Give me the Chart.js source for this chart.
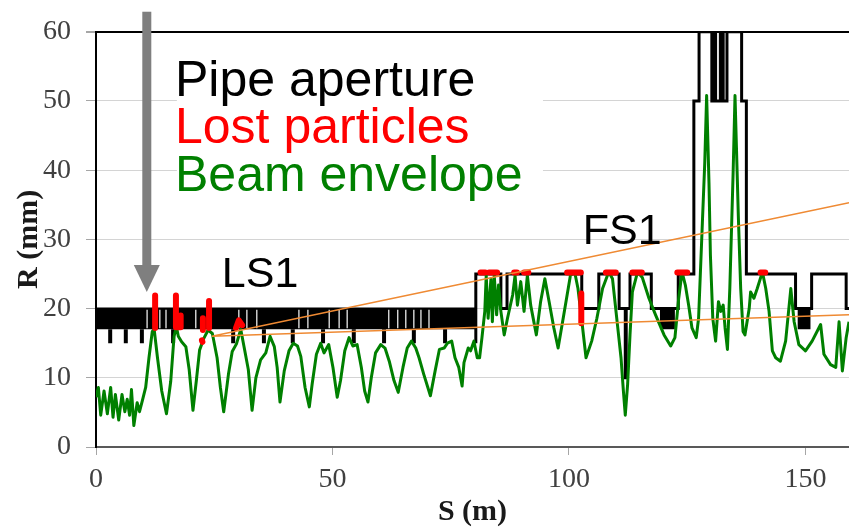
<!DOCTYPE html>
<html><head><meta charset="utf-8">
<script src="https://cdn.jsdelivr.net/npm/chart.js@4.4.1/dist/chart.umd.min.js"></script>
<style>html,body{margin:0;padding:0;background:#fff;}#wrap{width:849px;height:532px;}</style>
</head><body><div id="wrap"><canvas id="c" width="849" height="532"></canvas></div>
<script>
// ---- data ----
const xTickValues = [0, 50, 100, 150];
const xMin = 0, xMax = 159.2;
const yMin = 0, yMax = 60, yStep = 10;

// Beam envelope (green)
const beamS = [0,0.5,1.0,1.7,2.4,3.1,3.6,4.1,4.8,5.5,6.1,6.6,7.1,7.5,8.0,8.7,9.2,9.8,10.5,11.2,11.9,12.3,13.0,13.9,14.9,15.8,16.5,17.0,17.4,18.1,19.0,19.7,20.5,21.2,21.9,22.8,23.7,24.6,25.6,26.3,27.0,28.0,28.8,29.7,30.6,31.3,32.2,33.0,33.8,34.8,35.9,36.8,37.7,38.3,38.9,39.8,40.8,41.7,42.6,43.3,44.2,45.1,45.7,46.6,47.5,48.2,49.2,50.1,51.0,51.7,52.6,53.5,54.3,55.2,56.1,56.8,57.5,58.2,59.1,60.2,61.1,62.0,63.0,63.9,64.9,65.8,66.7,67.6,68.3,69.3,70.7,71.7,72.6,73.6,74.3,75.2,75.9,76.7,77.4,77.8,78.7,79.2,79.9,80.6,81.1,81.6,82.2,82.5,82.9,83.5,83.8,84.2,84.7,85.1,85.6,86.3,87.0,88.1,88.6,89.1,89.8,90.5,91.2,91.9,93.1,94.0,94.9,95.8,96.8,97.7,98.9,100.3,101.2,101.9,102.8,103.6,104.8,105.9,107.1,108.4,109.2,110.1,111.0,111.5,111.9,112.4,112.9,113.4,114.5,115.5,116.9,118.3,120.1,121.5,122.4,123.2,123.9,124.6,125.3,126.0,126.9,127.4,128.2,128.7,129.1,129.6,129.9,130.4,131.0,131.6,132.1,132.6,133.0,133.5,134.0,134.4,134.7,135.1,135.4,135.8,136.3,136.8,137.2,138.1,138.4,139.1,139.8,140.9,141.6,142.3,143.0,143.7,144.7,145.8,146.9,147.6,148.6,150.0,151.4,153.2,153.9,155.3,156.4,157.1,157.8,158.6,159.2];
const beamR = [7.2,8.6,4.6,8.1,4.8,8.6,4.3,7.6,3.9,7.6,5.1,6.9,4.6,8.3,3.1,6.4,5.1,6.7,8.6,12.9,16.7,17.0,12.9,8.1,4.8,9.5,16.0,17.4,16.0,15.2,14.5,11.2,5.3,9.5,14.0,15.7,16.9,16.4,12.9,8.6,5.1,10.5,13.8,14.9,17.0,14.5,11.2,5.3,10.0,12.6,13.6,16.0,14.5,11.5,6.5,11.0,13.9,15.0,14.6,13.1,8.6,5.8,9.1,13.4,15.0,13.6,14.8,11.5,7.2,9.6,13.9,15.8,14.6,14.8,11.5,8.1,6.5,10.0,13.6,14.8,14.3,12.4,9.6,7.9,11.5,14.3,15.3,14.3,12.9,10.5,7.4,11.0,14.1,14.3,15.0,15.3,12.9,11.5,8.8,12.2,14.3,13.9,15.3,12.9,12.9,15.8,19.6,24.8,18.6,24.3,18.1,24.8,19.1,23.4,19.6,16.2,18.6,22.0,24.8,20.5,23.9,19.6,24.8,20.5,16.2,21.0,24.3,21.0,17.2,14.3,19.1,24.8,25.3,22.9,17.7,12.9,15.3,18.6,22.9,25.3,24.3,18.6,12.9,8.1,4.6,9.1,16.2,22.4,25.3,24.5,21.5,19.1,16.2,14.6,15.8,21.5,25.3,23.4,20.5,17.2,15.8,18.6,32.4,41.0,50.8,38.1,27.7,18.6,15.3,21.0,19.6,20.5,17.2,14.1,22.9,32.4,39.6,50.8,43.4,33.4,22.9,16.7,16.2,20.0,22.4,21.5,22.9,25.3,22.9,19.6,13.9,12.9,12.4,15.3,22.9,18.1,14.8,13.9,15.3,17.7,13.4,11.9,11.5,18.1,11.0,15.8,18.1];

// Pipe aperture, FS1 part (value holds until the next change point)
const pipeS = [80.3,80.3,85.6,86.9,102.7,106.3,110.6,111.9,112.1,112.9,117.4,123.1,126.4,127.5,130.2,130.6,131.0,132.0,132.6,133.4,136.5,137.5,147.9,151.3,158.6,159.2];
const pipeR = [15,25,20,25,20,25,20,10,20,25,20,25,50,60,50,60,50,60,50,60,50,25,20,25,20,20];

// Pipe aperture, dense LS1 band and small blocks (R between 17 and 20)
const bandStart = [0, 119.2, 148.3];
const bandEnd = [80.3, 122.4, 151.1];
const bandUpper = 20, bandLower = 17;
// short aperture dips (17 -> 15)
const dipS = [3.0,6.3,9.7,16.3,29.0,35.5,41.6,48.0,54.5,60.9,67.2,73.8];
const dipUpper = 17, dipLower = 15;
// thin openings in the band
const gapS = [10.8,13.5,14.8,21.1,30.2,31.9,34.0,42.9,44.8,49.3,51.4,53.1,61.9,63.8,65.5,67.2,68.7,70.4];

// Lost particles (red), null separates marks
const lostS = [12.5,12.5,null,16.9,16.9,17.9,17.9,null,23.9,23.9,null,22.6,22.6,null,22.4,22.5,null,29.6,30.2,30.9,null,81.3,82.3,null,83.1,84.8,null,88.4,89.0,null,90.5,91.4,null,99.6,102.5,null,102.6,102.6,null,107.8,109.9,null,113.4,115.4,null,122.9,125.0,null,140.5,141.5];
const lostR = [21.9,17.2,null,21.9,17.3,17.3,19.0,null,21.1,17.2,null,18.6,16.9,null,15.4,15.2,null,17.2,18.3,17.6,null,25.2,25.2,null,25.2,25.2,null,25.2,25.2,null,25.2,25.2,null,25.2,25.2,null,22.2,17.9,null,25.2,25.2,null,25.2,25.2,null,25.2,25.2,null,25.2,25.2];

// Orange zoom wedge
const wedgeS = [159.2, 24.5, 159.2];
const wedgeR = [35.3, 16.0, 19.1];

// ---- annotations (text / arrow), placed in data coordinates ----
const legendLines = [
  {text: 'Pipe aperture', color: '#000000', r: 50.76},
  {text: 'Lost particles', color: '#ff0000', r: 43.86},
  {text: 'Beam envelope', color: '#008000', r: 36.96}
];
const legendS = 16.7;
const legendBox = {s0: 17.1, s1: 94.5, r0: 35.6, r1: 57.9};
const sectionLabels = [
  {text: 'LS1', s: 26.6, r: 23.1},
  {text: 'FS1', s: 102.9, r: 29.3}
];
const arrowDef = {s: 10.74, rTop: 62.9, rHead: 26.3, rTip: 22.4};

// ---- build datasets ----
function pts(S, R) {
  const out = [];
  for (let i = 0; i < S.length; i++) {
    if (S[i] === null) out.push({x: S[i - 1], y: null});
    else out.push({x: S[i], y: R[i]});
  }
  return out;
}
function vsegs(S, top, bot) {
  const out = [];
  S.forEach(s => { out.push({x: s, y: top}, {x: s, y: bot}, {x: s, y: null}); });
  return out;
}
const base = {pointRadius: 0, pointHoverRadius: 0, tension: 0, fill: false};
const datasets = [];
datasets.push(Object.assign({}, base, {label: 'wedge', data: pts(wedgeS, wedgeR), borderColor: '#ef8a33', borderWidth: 1.5, order: 0}));
datasets.push(Object.assign({}, base, {label: 'Lost particles', data: pts(lostS, lostR), borderColor: '#ff0000', borderWidth: 6, borderCapStyle: 'round', borderJoinStyle: 'round', spanGaps: false, order: 1}));
datasets.push(Object.assign({}, base, {label: 'Beam envelope', data: pts(beamS, beamR), borderColor: '#008000', borderWidth: 3, borderJoinStyle: 'round', order: 2}));
datasets.push(Object.assign({}, base, {label: 'Pipe aperture', data: pts(pipeS, pipeR), borderColor: '#000000', borderWidth: 3, stepped: 'before', order: 3}));
datasets.push(Object.assign({}, base, {label: 'gaps', data: vsegs(gapS, bandUpper - 0.15, bandLower + 0.15), borderColor: '#ffffff', borderWidth: 1.2, spanGaps: false, order: 4}));
datasets.push(Object.assign({}, base, {label: 'dips', data: vsegs(dipS, dipUpper, dipLower), borderColor: '#000000', borderWidth: 4, spanGaps: false, order: 5}));
bandStart.forEach((s, i) => {
  datasets.push(Object.assign({}, base, {label: 'band' + i, data: [{x: s, y: bandUpper}, {x: bandEnd[i], y: bandUpper}], borderColor: '#000000', borderWidth: 2, backgroundColor: '#000000', fill: {value: bandLower}, order: 6}));
});

const serif = "'Liberation Serif','Times New Roman',serif";
const sans = "'Liberation Sans',Arial,sans-serif";

const annot = {
  id: 'annot',
  beforeDatasetsDraw(chart) {
    const {ctx, scales: {x, y}} = chart;
    const l = x.getPixelForValue(legendBox.s0), r = x.getPixelForValue(legendBox.s1);
    const t = y.getPixelForValue(legendBox.r1), b = y.getPixelForValue(legendBox.r0);
    ctx.save(); ctx.fillStyle = '#ffffff'; ctx.fillRect(l, t, r - l, b - t); ctx.restore();
  },
  afterDraw(chart) {
    const {ctx, scales: {x, y}} = chart;
    ctx.save();
    ctx.textAlign = 'left'; ctx.textBaseline = 'alphabetic';
    ctx.font = '50px ' + sans;
    legendLines.forEach(L => { ctx.fillStyle = L.color; ctx.fillText(L.text, x.getPixelForValue(legendS), y.getPixelForValue(L.r)); });
    ctx.font = '43px ' + sans; ctx.fillStyle = '#000000';
    sectionLabels.forEach(L => ctx.fillText(L.text, x.getPixelForValue(L.s), y.getPixelForValue(L.r)));
    // arrow
    const ax = x.getPixelForValue(arrowDef.s);
    const top = y.getPixelForValue(arrowDef.rTop), head = y.getPixelForValue(arrowDef.rHead), tip = y.getPixelForValue(arrowDef.rTip);
    ctx.fillStyle = '#7f7f7f';
    ctx.fillRect(ax - 4.5, top, 9, head - top + 1);
    ctx.beginPath(); ctx.moveTo(ax - 13, head); ctx.lineTo(ax + 13, head); ctx.lineTo(ax, tip); ctx.closePath(); ctx.fill();
    ctx.restore();
  }
};

new Chart(document.getElementById('c'), {
  type: 'line',
  data: {datasets},
  plugins: [annot],
  options: {
    responsive: false, animation: false, devicePixelRatio: 1,
    layout: {padding: {top: 27, right: 0, left: 0, bottom: 0}},
    plugins: {legend: {display: false}, tooltip: {enabled: false}},
    scales: {
      x: {
        type: 'linear', min: xMin, max: xMax,
        afterBuildTicks: s => { s.ticks = xTickValues.map(v => ({value: v})); },
        afterFit: s => { s.height = 85; },
        grid: {drawOnChartArea: false, tickLength: 8, tickColor: '#a6a6a6'},
        border: {color: '#595959', width: 2},
        ticks: {font: {family: serif, size: 28}, color: '#404040', padding: 8, maxRotation: 0, autoSkip: false},
        title: {display: true, text: 'S (m)', font: {family: serif, size: 30, weight: 'bold'}, color: '#1a1a1a', padding: {top: 0, bottom: 2}}
      },
      y: {
        type: 'linear', min: yMin, max: yMax,
        afterFit: s => { s.width = 96; },
        grid: {
          color: c => (c.tick && c.tick.value === yMax) ? '#000000' : '#d4d4d4',
          lineWidth: c => (c.tick && c.tick.value === yMax) ? 2 : 1,
          tickLength: 10, tickColor: '#a6a6a6'
        },
        border: {color: '#000000', width: 2},
        ticks: {stepSize: yStep, font: {family: serif, size: 28}, color: '#404040', padding: 15},
        title: {display: true, text: 'R (mm)', font: {family: serif, size: 30, weight: 'bold'}, color: '#1a1a1a', padding: {top: 11, bottom: 0}}
      }
    }
  }
});
</script></body></html>
